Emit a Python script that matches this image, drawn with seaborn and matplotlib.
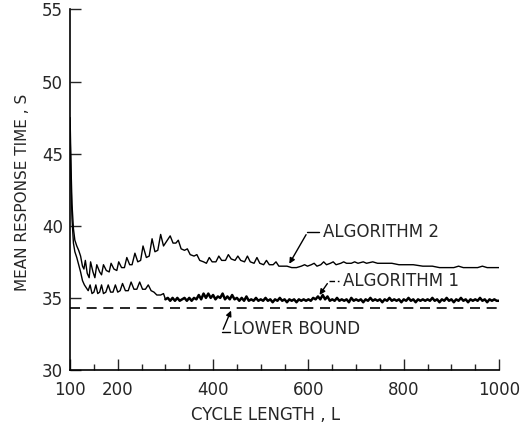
# mean response time vs. cycle length for two algorithms

import numpy as np
import pandas as pd
import seaborn as sns
import matplotlib.pyplot as plt

# algorithm 2
alg2_len = [100, 102, 104, 107, 110, 114, 118, 122, 126, 129, 132, 136, 140, 143, 148,
            152, 156, 162, 166, 170, 176, 182, 186, 192, 198, 202, 208, 214, 219, 225,
            230, 236, 242, 248, 253, 260, 266, 272, 278, 284, 290, 296, 302, 310, 316,
            322, 327, 333, 340, 346, 352, 360, 366, 372, 380, 386, 392, 398, 406, 412,
            418, 426, 432, 438, 446, 452, 458, 466, 472, 478, 486, 492, 498, 506, 512,
            518, 526, 532, 538, 548, 555, 565, 575, 585, 592, 598, 606, 612, 618, 626,
            632, 638, 646, 652, 658, 668, 674, 680, 690, 697, 704, 715, 722, 735, 745,
            760, 775, 790, 805, 820, 840, 860, 875, 890, 905, 915, 925, 940, 955, 965,
            975, 990, 1000]
alg2_time = [47.5, 44.0, 41.5, 39.8, 39.0, 38.6, 38.3, 37.9, 37.2, 37.0, 37.6, 36.7, 36.4, 37.5, 36.8,
             36.4, 37.3, 36.8, 36.6, 37.3, 36.9, 36.8, 37.4, 37.0, 36.9, 37.5, 37.1, 37.1, 37.8, 37.3,
             37.3, 38.1, 37.5, 37.6, 38.6, 37.8, 37.9, 39.1, 38.2, 38.3, 39.4, 38.6, 38.9, 39.3, 38.8,
             38.8, 39.0, 38.4, 38.3, 38.4, 38.0, 37.9, 38.0, 37.6, 37.5, 37.4, 37.8, 37.5, 37.5, 37.9,
             37.6, 37.6, 38.0, 37.7, 37.6, 37.9, 37.6, 37.5, 37.9, 37.5, 37.4, 37.8, 37.4, 37.3, 37.6,
             37.3, 37.3, 37.5, 37.2, 37.2, 37.2, 37.1, 37.1, 37.2, 37.3, 37.2, 37.3, 37.4, 37.2, 37.3,
             37.5, 37.3, 37.4, 37.5, 37.3, 37.4, 37.5, 37.4, 37.4, 37.5, 37.4, 37.5, 37.4, 37.5, 37.4,
             37.4, 37.4, 37.3, 37.3, 37.3, 37.2, 37.2, 37.1, 37.1, 37.1, 37.2, 37.1, 37.1, 37.1, 37.2,
             37.1, 37.1, 37.1]

# algorithm 1, sawtooth start
alg1_len_start = [100, 102, 104, 107, 110, 114, 118, 122, 126, 130, 134, 138, 142, 146, 150,
                  154, 158, 162, 166, 170, 175, 180, 185, 190, 195, 200, 205, 210, 216, 222,
                  228, 234, 240, 246, 252, 258, 264, 270, 276, 282, 290, 296, 300]
alg1_time_start = [46.5, 43.0, 40.5, 38.8, 38.2, 37.8, 37.3, 36.8, 36.2, 35.9, 35.7, 35.5, 35.9, 35.3, 35.4,
                   35.9, 35.3, 35.4, 35.9, 35.3, 35.4, 35.9, 35.4, 35.4, 35.9, 35.4, 35.5, 36.0, 35.5, 35.5,
                   36.1, 35.6, 35.6, 36.1, 35.6, 35.6, 35.9, 35.5, 35.4, 35.2, 35.2, 35.3, 34.9]
# algorithm 1, noisy part (every 5 from 300 to 1000)
alg1_len_noisy = np.arange(300, 1001, 5)
alg1_time_noisy = [34.9, 35.0, 34.8, 35.0, 34.8, 35.0, 34.8, 34.9, 35.0, 34.8,
                   35.0, 34.8, 35.0, 34.9, 35.2, 34.9, 35.3, 35.0, 35.3, 35.0,
                   35.2, 34.9, 35.1, 35.0, 35.3, 34.9, 35.1, 34.9, 35.2, 34.9,
                   35.0, 34.8, 35.0, 34.8, 35.1, 34.8, 34.9, 34.8, 35.0, 34.8,
                   34.9, 34.8, 35.0, 34.8, 34.9, 34.7, 34.9, 34.8, 35.0, 34.8,
                   34.9, 34.7, 34.9, 34.8, 34.9, 34.7, 34.9, 34.8, 34.9, 34.8,
                   34.9, 34.8, 35.0, 34.9, 35.1, 34.9, 35.2, 34.9, 35.1, 34.8,
                   34.9, 34.8, 35.0, 34.8, 34.9, 34.8, 34.9, 34.7, 35.0, 34.8,
                   34.9, 34.8, 34.9, 34.7, 34.9, 34.8, 35.0, 34.8, 34.9, 34.8,
                   34.9, 34.7, 34.9, 34.8, 35.0, 34.8, 34.9, 34.8, 34.9, 34.7,
                   34.9, 34.8, 35.0, 34.8, 34.9, 34.7, 34.9, 34.8, 34.9, 34.8,
                   34.9, 34.8, 35.0, 34.8, 34.9, 34.7, 34.9, 34.8, 35.0, 34.8,
                   34.9, 34.7, 34.9, 34.8, 35.0, 34.8, 34.9, 34.7, 34.9, 34.8,
                   34.9, 34.8, 35.0, 34.8, 34.9, 34.7, 34.9, 34.8, 34.9, 34.8,
                   34.8]

lower_bound = 34.3
x_ticks = [100, 200, 400, 600, 800, 1000]
y_ticks = [30, 35, 40, 45, 50, 55]

sns.set_style("ticks")
plt.rcParams['font.family'] = ['DejaVu Sans']

fig = plt.figure(figsize=(5.27, 4.29), dpi=100)
ax = fig.add_axes([0.133, 0.1375, 0.814, 0.8405])

sns.lineplot(x=alg2_len, y=alg2_time, color="black", lw=1.0, estimator=None, sort=False, ax=ax)
sns.lineplot(x=alg1_len_start, y=alg1_time_start, color="black", lw=1.0, estimator=None, sort=False, ax=ax)
sns.lineplot(x=alg1_len_noisy, y=alg1_time_noisy, color="black", lw=1.8, estimator=None, sort=False, ax=ax)
sns.lineplot(x=[100, 1000], y=[lower_bound, lower_bound], color="black", lw=1.2,
             linestyle=(0, (6, 4)), ax=ax)

ax.set_xlim(100, 1000)
ax.set_ylim(30, 55)
ax.set_xticks(x_ticks)
ax.set_xticks(np.arange(150, 1000, 50), minor=True)
ax.set_yticks(y_ticks)
ax.tick_params(axis="both", which="major", direction="in", length=8, width=1, labelsize=12)
ax.tick_params(axis="x", which="major", pad=8)
ax.tick_params(axis="y", which="major", pad=5)
ax.tick_params(axis="x", which="minor", direction="in", length=4, width=1)
ax.set_xlabel("CYCLE LENGTH , L", fontsize=12)
ax.set_ylabel("MEAN RESPONSE TIME , S", fontsize=11)
ax.xaxis.set_label_coords(0.455, -0.1)
ax.yaxis.set_label_coords(-0.093, 0.494)
sns.despine(ax=ax)
for s in ["left", "bottom"]:
    ax.spines[s].set_linewidth(1.2)
    ax.spines[s].set_color("black")

# labels with leader lines
ax.annotate("", xy=(557, 37.2), xytext=(598, 39.55),
            arrowprops=dict(arrowstyle="-|>", color="black", lw=1, mutation_scale=8))
ax.plot([598, 622], [39.55, 39.55], color="black", lw=1)
ax.text(630, 39.55, "ALGORITHM 2", fontsize=12, va="center", ha="left")

ax.annotate("", xy=(620, 35.05), xytext=(643, 36.15),
            arrowprops=dict(arrowstyle="-|>", color="black", lw=1, mutation_scale=8))
ax.plot([643, 665], [36.15, 36.15], color="black", lw=1, linestyle=(0, (4, 2)))
ax.text(673, 36.15, "ALGORITHM 1", fontsize=12, va="center", ha="left")

ax.annotate("", xy=(440, 34.3), xytext=(419, 32.65),
            arrowprops=dict(arrowstyle="-|>", color="black", lw=1, mutation_scale=8))
ax.plot([419, 436], [32.65, 32.65], color="black", lw=1)
ax.text(442, 32.85, "LOWER BOUND", fontsize=12, va="center", ha="left")

plt.savefig("out.png", dpi=100)
